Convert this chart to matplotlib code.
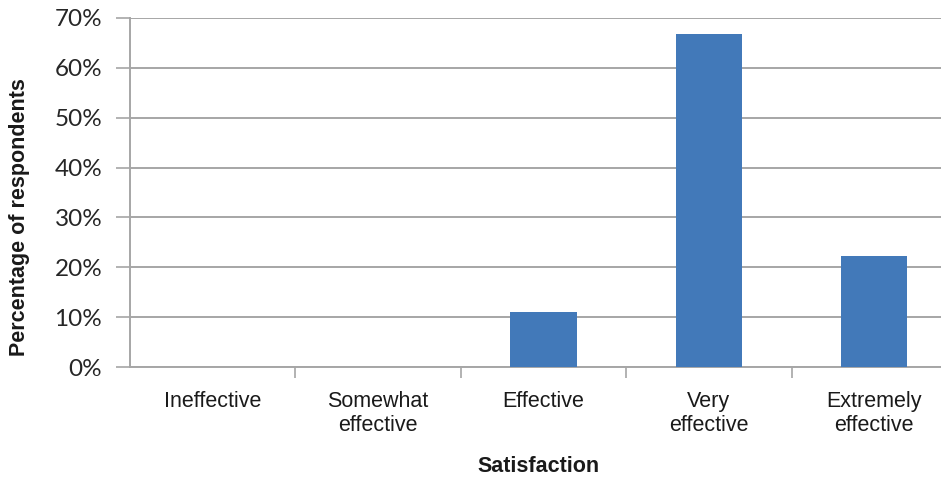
import matplotlib.pyplot as plt
from matplotlib.ticker import PercentFormatter

# Survey results: share of respondents per rating
categorias = ["Ineffective", "Somewhat\neffective", "Effective",
              "Very\neffective", "Extremely\neffective"]
porcentajes = [0.0, 0.0, 11.1, 66.7, 22.2]
y_ticks = [0, 10, 20, 30, 40, 50, 60, 70]

fig = plt.figure(figsize=(9.41, 4.79), dpi=100)
# plot area runs slightly past the right edge of the image
ax = fig.add_axes([130 / 941, (479 - 367) / 479, 827 / 941, 349 / 479])

x = range(len(categorias))
ax.bar(x, porcentajes, width=0.4, color="#4279b9", zorder=3)

ax.set_xlim(-0.5, len(categorias) - 0.5)
ax.set_ylim(0, 70)
ax.set_yticks(y_ticks)
ax.yaxis.set_major_formatter(PercentFormatter(decimals=0))
ax.grid(axis="y", color="#a6a6a6", linewidth=1.4, zorder=0)

ax.set_xticks(list(x))
ax.set_xticklabels(categorias, fontsize=15.5, family="Liberation Sans",
                   color="#1a1a1a", linespacing=1.22)
ax.set_xticks([i + 0.5 for i in range(len(categorias) - 1)], minor=True)
ax.tick_params(axis="x", which="major", length=0, pad=17)
ax.tick_params(axis="x", which="minor", length=8, width=1.2, color="#a6a6a6")
ax.tick_params(axis="y", length=10, width=1.2, color="#a6a6a6", pad=10,
               labelsize=17.5, labelcolor="#262626")
for lab in ax.get_yticklabels():
    lab.set_family("Lato")

for s in ["top", "right"]:
    ax.spines[s].set_visible(False)
ax.spines["left"].set_color("#a6a6a6")
ax.spines["left"].set_linewidth(1.4)
ax.spines["bottom"].set_color("#a6a6a6")
ax.spines["bottom"].set_linewidth(1.4)

fig.text(20 / 941, 1 - 217 / 479, "Percentage of respondents", rotation=90,
         ha="center", va="center", fontsize=15.5, fontweight="bold",
         family="Liberation Sans", color="#1a1a1a")
fig.text(538 / 941, 1 - 466 / 479, "Satisfaction", ha="center", va="center",
         fontsize=15.5, fontweight="bold", family="Liberation Sans", color="#1a1a1a")

fig.savefig("out.png", dpi=100)
